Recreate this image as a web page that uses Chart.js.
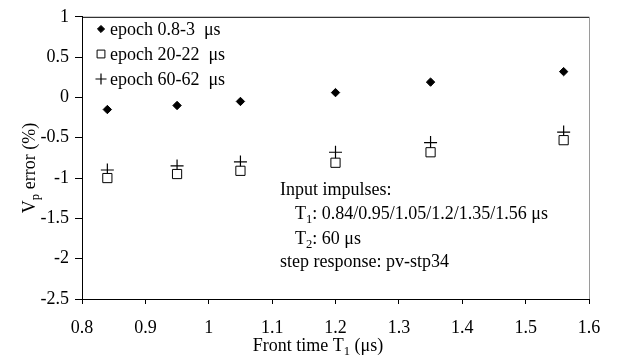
<!DOCTYPE html>
<html>
<head>
<meta charset="utf-8">
<script src="https://cdn.jsdelivr.net/npm/chart.js@4.4.1/dist/chart.umd.min.js"></script>
<style>
  html, body { margin: 0; padding: 0; background: #fff; }
  #wrap { width: 623px; height: 356px; }
</style>
</head>
<body>
<div id="wrap"><canvas id="chart" width="623" height="356"></canvas></div>
<script>
// front times of the input impulses (us)
const frontTimes = [0.84, 0.95, 1.05, 1.2, 1.35, 1.56];

// Vp error (%) for each evaluation epoch
const epochEarly = [-0.15, -0.1, -0.05, 0.06, 0.19, 0.32];
const epochMid = [-1.0, -0.95, -0.91, -0.81, -0.68, -0.53];
const epochLate = [-0.9, -0.85, -0.8, -0.68, -0.56, -0.43];

const xTicks = [0.8, 0.9, 1, 1.1, 1.2, 1.3, 1.4, 1.5, 1.6];
const yTicks = [1, 0.5, 0, -0.5, -1, -1.5, -2, -2.5];

const legendLabels = ['epoch 0.8-3', 'epoch 20-22', 'epoch 60-62'];

const FONT = '"Liberation Serif", "Times New Roman", serif';
const FS = 18;

function pts(ys) {
    return frontTimes.map((x, i) => ({ x: x, y: ys[i] }));
}

// draw text made of parts, some of them subscripted
function drawParts(c, parts, x, y, size) {
    let cx = x;
    parts.forEach(p => {
        let s = p.sub ? size * 0.7 : size;
        c.font = s + 'px ' + FONT;
        c.fillText(p.t, cx, p.sub ? y + size * 0.22 : y);
        cx += c.measureText(p.t).width;
    });
    return cx;
}

function partsWidth(c, parts, size) {
    let w = 0;
    parts.forEach(p => {
        c.font = (p.sub ? size * 0.7 : size) + 'px ' + FONT;
        w += c.measureText(p.t).width;
    });
    return w;
}

const extras = {
    id: 'extras',
    afterDraw(chart) {
        const c = chart.ctx;
        const a = chart.chartArea;
        c.save();

        // frame top and right
        c.lineWidth = 1;
        c.strokeStyle = '#000';
        c.beginPath();
        c.moveTo(a.left, a.top + 0.5);
        c.lineTo(a.right, a.top + 0.5);
        c.stroke();
        c.strokeStyle = '#9a9a9a';
        c.beginPath();
        c.moveTo(a.right + 0.5, a.top);
        c.lineTo(a.right + 0.5, a.bottom);
        c.stroke();

        c.textBaseline = 'alphabetic';
        c.textAlign = 'left';

        // legend inside the plot
        const ds = chart.data.datasets;
        const rows = [29, 54, 79];
        ds.forEach((d, i) => {
            const cy = rows[i];
            c.fillStyle = d.backgroundColor;
            c.strokeStyle = d.borderColor;
            c.lineWidth = d.borderWidth;
            Chart.helpers.drawPoint(c, {
                pointStyle: d.pointStyle,
                radius: d.pointRadius * 0.85,
                borderWidth: d.borderWidth
            }, 101, cy);
            c.fillStyle = '#000';
            c.font = FS + 'px ' + FONT;
            c.fillText(d.label, 110, cy + 6);
            const w = c.measureText(d.label).width;
            c.fillText('\u03bcs', 110 + w + 9, cy + 6);
        });

        // note about the inputs
        c.fillStyle = '#000';
        c.font = FS + 'px ' + FONT;
        c.fillText('Input impulses:', 280, 195);
        drawParts(c, [{ t: 'T' }, { t: '1', sub: true }, { t: ': 0.84/0.95/1.05/1.2/1.35/1.56 \u03bcs' }], 295, 219, FS);
        drawParts(c, [{ t: 'T' }, { t: '2', sub: true }, { t: ': 60 \u03bcs' }], 295, 244, FS);
        c.font = FS + 'px ' + FONT;
        c.fillText('step response: pv-stp34', 280, 267);

        // x axis title
        const xt = [{ t: 'Front time T' }, { t: '1', sub: true }, { t: ' (\u03bcs)' }];
        const xw = partsWidth(c, xt, FS);
        drawParts(c, xt, 318 - xw / 2, 351, FS);

        // y axis title, rotated
        const yt = [{ t: 'V' }, { t: 'p', sub: true }, { t: ' error (%)' }];
        const yw = partsWidth(c, yt, FS);
        c.translate(35, 168);
        c.rotate(-Math.PI / 2);
        drawParts(c, yt, -yw / 2, 0, FS);

        c.restore();
    }
};

new Chart(document.getElementById('chart'), {
    type: 'scatter',
    data: {
        datasets: [{
            label: legendLabels[0],
            data: pts(epochEarly),
            pointStyle: 'rectRot',
            pointRadius: 4.2,
            backgroundColor: '#000',
            borderColor: '#000',
            borderWidth: 1
        }, {
            label: legendLabels[1],
            data: pts(epochMid),
            pointStyle: 'rect',
            pointRadius: 6.5,
            backgroundColor: '#fff',
            borderColor: '#000',
            borderWidth: 1
        }, {
            label: legendLabels[2],
            data: pts(epochLate),
            pointStyle: 'cross',
            pointRadius: 6.5,
            backgroundColor: '#000',
            borderColor: '#000',
            borderWidth: 1.2
        }]
    },
    options: {
        responsive: false,
        animation: false,
        layout: { padding: { top: 12, right: 34, left: 0, bottom: 0 } },
        plugins: {
            legend: { display: false },
            tooltip: { enabled: false }
        },
        scales: {
            x: {
                type: 'linear',
                min: 0.8,
                max: 1.6,
                afterBuildTicks: s => { s.ticks = xTicks.map(v => ({ value: v })); },
                afterFit: s => { s.height = 57; },
                border: { display: true, color: '#000', width: 1 },
                grid: { drawOnChartArea: false, drawTicks: true, tickLength: 5, color: '#000' },
                ticks: {
                    color: '#000',
                    font: { family: FONT, size: FS },
                    padding: 13,
                    maxRotation: 0,
                    callback: v => String(v)
                }
            },
            y: {
                type: 'linear',
                min: -2.5,
                max: 1,
                afterBuildTicks: s => { s.ticks = yTicks.map(v => ({ value: v })); },
                afterFit: s => { s.width = 82; },
                border: { display: true, color: '#000', width: 1 },
                grid: { drawOnChartArea: false, drawTicks: true, tickLength: 7, color: '#000' },
                ticks: {
                    color: '#000',
                    font: { family: FONT, size: FS },
                    padding: 6,
                    callback: v => String(v)
                }
            }
        }
    },
    plugins: [extras]
});
</script>
</body>
</html>
